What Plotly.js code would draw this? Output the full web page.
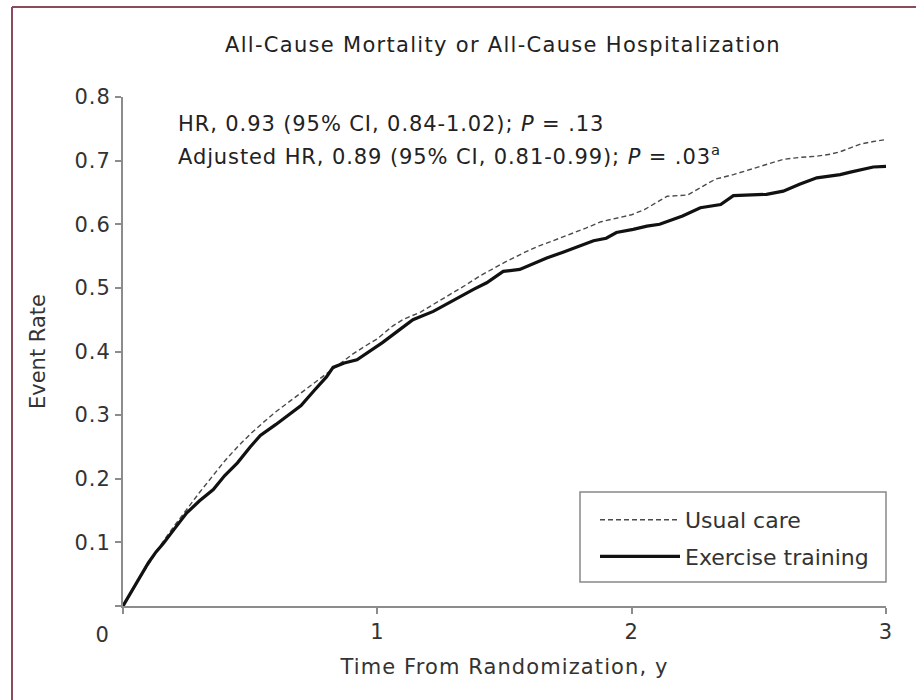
<!DOCTYPE html>
<html>
<head>
<meta charset="utf-8">
<script src="https://cdn.plot.ly/plotly-3.0.1.min.js"></script>
<style>
html,body{margin:0;padding:0;background:#fff;}
#chart{width:916px;height:700px;}
#chart .gtitle{letter-spacing:1.3px;}
#chart .annotation-text{letter-spacing:0.9px;}
#chart .xtitle{letter-spacing:1.1px;}
#chart .xtick text, #chart .ytick text{letter-spacing:1px;}
</style>
</head>
<body>
<div id="chart"></div>
<script>
// Usual care (dashed)
const usualX = [0, 0.05, 0.1, 0.15, 0.2, 0.25, 0.3, 0.35, 0.4, 0.45, 0.5, 0.55, 0.6, 0.65, 0.7, 0.75, 0.8, 0.85, 0.9, 0.95, 1.0, 1.06, 1.1, 1.17, 1.22, 1.3, 1.35, 1.4, 1.455, 1.5, 1.575, 1.63, 1.69, 1.75, 1.82, 1.88, 1.94, 2.0, 2.05, 2.1, 2.14, 2.22, 2.28, 2.33, 2.4, 2.466, 2.53, 2.596, 2.66, 2.728, 2.78, 2.82, 2.86, 2.9, 2.95, 3.0];
const usualY = [0, 0.035, 0.065, 0.097, 0.125, 0.152, 0.178, 0.203, 0.228, 0.25, 0.27, 0.288, 0.305, 0.32, 0.335, 0.35, 0.365, 0.38, 0.395, 0.408, 0.42, 0.44, 0.45, 0.462, 0.474, 0.492, 0.505, 0.518, 0.53, 0.54, 0.555, 0.565, 0.574, 0.583, 0.594, 0.604, 0.61, 0.615, 0.623, 0.635, 0.644, 0.646, 0.66, 0.671, 0.678, 0.686, 0.693, 0.702, 0.705, 0.707, 0.71, 0.714, 0.72, 0.726, 0.73, 0.733];
// Exercise training (solid)
const exerciseX = [0, 0.03, 0.067, 0.1, 0.13, 0.16, 0.2, 0.25, 0.3, 0.355, 0.4, 0.45, 0.5, 0.54, 0.6, 0.644, 0.7, 0.75, 0.8, 0.826, 0.87, 0.92, 0.97, 1.02, 1.08, 1.14, 1.22, 1.28, 1.325, 1.38, 1.43, 1.495, 1.56, 1.61, 1.666, 1.73, 1.8, 1.85, 1.9, 1.94, 2.006, 2.06, 2.11, 2.2, 2.27, 2.35, 2.4, 2.46, 2.53, 2.596, 2.66, 2.728, 2.78, 2.82, 2.86, 2.9, 2.95, 3.0];
const exerciseY = [0, 0.02, 0.046, 0.068, 0.085, 0.099, 0.12, 0.146, 0.165, 0.183, 0.205, 0.225, 0.25, 0.268, 0.285, 0.298, 0.315, 0.338, 0.36, 0.375, 0.382, 0.387, 0.4, 0.414, 0.432, 0.45, 0.463, 0.476, 0.487, 0.498, 0.508, 0.526, 0.529, 0.538, 0.547, 0.556, 0.566, 0.574, 0.578, 0.587, 0.592, 0.597, 0.6, 0.613, 0.626, 0.631, 0.645, 0.646, 0.647, 0.652, 0.663, 0.673, 0.676, 0.678, 0.682, 0.686, 0.69, 0.691];

const xTickVals = [1, 2, 3];
const xTickText = ["1", "2", "3"];
const yTickVals = [0.1, 0.2, 0.3, 0.4, 0.5, 0.6, 0.7, 0.8];
const yTickText = ["0.1", "0.2", "0.3", "0.4", "0.5", "0.6", "0.7", "0.8"];
const originLabel = "0";

const FONT = "DejaVu Sans, Liberation Sans, Arial, sans-serif";
const W = 916, H = 700, ML = 123, MR = 30, MT = 97, MB = 94;
const PW = W - ML - MR, PH = H - MT - MB;
function px(x) { return (x - ML) / PW; }
function py(y) { return (H - MB - y) / PH; }

const traces = [
  {x: usualX, y: usualY, type: 'scatter', mode: 'lines', name: 'Usual care', legendgroup: 'u',
   line: {color: '#4a4a4a', width: 1.4, dash: '5px,3px'}},
  {x: exerciseX, y: exerciseY, type: 'scatter', mode: 'lines', name: 'Exercise training', legendgroup: 'e',
   line: {color: '#111111', width: 3.2}}
];

const axisCommon = {
  showline: true, linecolor: '#8c8c8c', linewidth: 2,
  ticks: 'outside', ticklen: 6, tickwidth: 2, tickcolor: '#8c8c8c',
  showgrid: false, zeroline: false, fixedrange: true,
  tickfont: {family: FONT, size: 21, color: '#333'},
  minor: {tickvals: [0], ticks: 'outside', ticklen: 6, tickwidth: 2, tickcolor: '#8c8c8c', showgrid: false}
};

const layout = {
  width: W, height: H,
  margin: {l: ML, r: MR, t: MT, b: MB},
  paper_bgcolor: '#fff', plot_bgcolor: '#fff',
  font: {family: FONT, color: '#222'},
  title: {text: 'All-Cause Mortality or All-Cause Hospitalization',
          font: {family: FONT, size: 21, color: '#222'},
          xref: 'container', x: 503 / W, xanchor: 'center', y: 1 - 45 / H, yanchor: 'middle'},
  xaxis: Object.assign({}, axisCommon, {
    range: [0, 3], tickvals: xTickVals, ticktext: xTickText,
    title: {text: 'Time From Randomization, y', font: {family: FONT, size: 21, color: '#333'}, standoff: 16}
  }),
  yaxis: Object.assign({}, axisCommon, {
    range: [0, 0.8], tickvals: yTickVals, ticktext: yTickText,
    title: {text: 'Event Rate', font: {family: FONT, size: 21, color: '#333'}, standoff: 26}
  }),
  showlegend: true,
  legend: {x: px(595), xanchor: 'left', y: py(499), yanchor: 'top',
           bgcolor: 'rgba(0,0,0,0)', borderwidth: 0,
           font: {family: FONT, size: 22, color: '#333'},
           itemwidth: 80, tracegroupgap: 5},
  annotations: [
    {xref: 'paper', yref: 'paper', x: px(102), y: py(635), text: originLabel, showarrow: false,
     xanchor: 'center', yanchor: 'middle', font: {family: FONT, size: 21, color: '#333'}},
    {xref: 'paper', yref: 'paper', x: px(176), y: py(124), text: 'HR, 0.93 (95% CI, 0.84-1.02); <i>P</i> = .13',
     showarrow: false, xanchor: 'left', yanchor: 'middle', align: 'left',
     font: {family: FONT, size: 21, color: '#222'}},
    {xref: 'paper', yref: 'paper', x: px(176), y: py(155), text: 'Adjusted HR, 0.89 (95% CI, 0.81-0.99); <i>P</i> = .03<sup>a</sup>',
     showarrow: false, xanchor: 'left', yanchor: 'middle', align: 'left',
     font: {family: FONT, size: 21, color: '#222'}}
  ],
  shapes: [
    {type: 'line', xref: 'paper', yref: 'paper', x0: px(12), x1: px(12), y0: py(7), y1: py(720),
     line: {color: '#8a4b5c', width: 2}},
    {type: 'line', xref: 'paper', yref: 'paper', x0: px(12), x1: px(930), y0: py(7), y1: py(7),
     line: {color: '#8a4b5c', width: 2}},
    {type: 'rect', xref: 'paper', yref: 'paper', x0: px(580), x1: px(886), y0: py(582), y1: py(492),
     line: {color: '#888', width: 1.5}, fillcolor: '#fff', layer: 'above'}
  ]
};

Plotly.newPlot('chart', traces, layout, {staticPlot: true, displayModeBar: false});
</script>
</body>
</html>
